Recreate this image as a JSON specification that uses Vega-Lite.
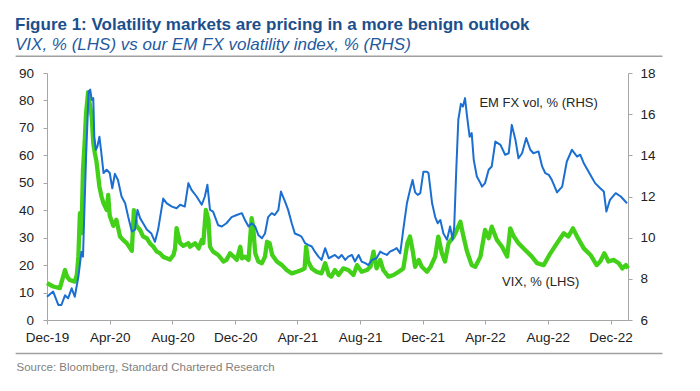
{
  "$schema": "https://vega.github.io/schema/vega-lite/v6.json",
  "width": 581,
  "height": 247,
  "autosize": {"type": "none"},
  "padding": {"left": 47, "top": 73, "right": 72, "bottom": 71},
  "background": "white",
  "config": {
    "font": "Liberation Sans",
    "view": {"stroke": null},
    "axis": {"grid": false, "domainColor": "#a6a6a6", "tickColor": "#a6a6a6", "labelColor": "#222222", "labelFontSize": 13.5, "labelFont": "Liberation Sans", "tickSize": 4}
  },
  "title": {
    "text": "Figure 1: Volatility markets are pricing in a more benign outlook",
    "subtitle": "VIX, % (LHS) vs our EM FX volatility index, % (RHS)",
    "anchor": "start", "frame": "group", "dx": -32, "offset": 2,
    "font": "Liberation Sans", "fontSize": 17, "fontWeight": "bold", "color": "#1c4f8c",
    "subtitleFont": "Liberation Sans", "subtitleFontStyle": "italic", "subtitleFontSize": 17, "subtitleColor": "#1f5a9e", "subtitlePadding": 3
  },
  "datasets": {
    "one": [{"k": 1}],
    "frame": [{"start": 1569888000000, "end": 1678579200000}],
    "vix": [
      {"date": "2019-12-01", "v": 13.4}, {"date": "2019-12-13", "v": 12.2}, {"date": "2019-12-26", "v": 11.6},
      {"date": "2020-01-05", "v": 18.2}, {"date": "2020-01-09", "v": 15.8}, {"date": "2020-01-14", "v": 14.6},
      {"date": "2020-01-24", "v": 14.0}, {"date": "2020-01-28", "v": 16.4}, {"date": "2020-01-31", "v": 23.0},
      {"date": "2020-02-03", "v": 38.9}, {"date": "2020-02-06", "v": 31.6}, {"date": "2020-02-09", "v": 54.7},
      {"date": "2020-02-12", "v": 64.0}, {"date": "2020-02-15", "v": 75.4}, {"date": "2020-02-19", "v": 83.0},
      {"date": "2020-02-22", "v": 79.0}, {"date": "2020-02-26", "v": 74.0}, {"date": "2020-02-29", "v": 64.5},
      {"date": "2020-03-03", "v": 60.8}, {"date": "2020-03-06", "v": 58.0}, {"date": "2020-03-12", "v": 48.6},
      {"date": "2020-03-16", "v": 45.0}, {"date": "2020-03-20", "v": 42.5}, {"date": "2020-03-26", "v": 40.1},
      {"date": "2020-03-29", "v": 45.6}, {"date": "2020-04-01", "v": 38.0}, {"date": "2020-04-08", "v": 34.3},
      {"date": "2020-04-14", "v": 36.5}, {"date": "2020-04-21", "v": 30.4}, {"date": "2020-04-27", "v": 29.2},
      {"date": "2020-05-04", "v": 28.0}, {"date": "2020-05-14", "v": 25.2}, {"date": "2020-05-18", "v": 40.0},
      {"date": "2020-05-23", "v": 34.3}, {"date": "2020-05-30", "v": 32.8}, {"date": "2020-06-05", "v": 30.4},
      {"date": "2020-06-12", "v": 29.8}, {"date": "2020-06-18", "v": 28.0}, {"date": "2020-06-25", "v": 26.7},
      {"date": "2020-07-01", "v": 25.0}, {"date": "2020-07-08", "v": 24.3}, {"date": "2020-07-14", "v": 23.0},
      {"date": "2020-07-21", "v": 22.5}, {"date": "2020-07-27", "v": 22.0}, {"date": "2020-08-03", "v": 23.7},
      {"date": "2020-08-06", "v": 26.0}, {"date": "2020-08-09", "v": 33.5}, {"date": "2020-08-16", "v": 28.0},
      {"date": "2020-08-22", "v": 27.0}, {"date": "2020-09-01", "v": 28.0}, {"date": "2020-09-04", "v": 26.7},
      {"date": "2020-09-14", "v": 28.0}, {"date": "2020-09-21", "v": 26.1}, {"date": "2020-09-27", "v": 29.2},
      {"date": "2020-09-30", "v": 28.0}, {"date": "2020-10-05", "v": 40.1}, {"date": "2020-10-10", "v": 36.5},
      {"date": "2020-10-13", "v": 26.7}, {"date": "2020-10-19", "v": 24.9}, {"date": "2020-10-29", "v": 23.7},
      {"date": "2020-11-08", "v": 21.3}, {"date": "2020-11-14", "v": 21.9}, {"date": "2020-11-21", "v": 24.3},
      {"date": "2020-11-28", "v": 23.1}, {"date": "2020-12-04", "v": 21.9}, {"date": "2020-12-11", "v": 26.7},
      {"date": "2020-12-14", "v": 22.5}, {"date": "2020-12-20", "v": 23.1}, {"date": "2020-12-27", "v": 21.9},
      {"date": "2021-01-02", "v": 37.1}, {"date": "2021-01-05", "v": 34.0}, {"date": "2021-01-09", "v": 24.3},
      {"date": "2021-01-15", "v": 21.3}, {"date": "2021-01-22", "v": 20.7}, {"date": "2021-01-28", "v": 23.1},
      {"date": "2021-02-01", "v": 28.5}, {"date": "2021-02-06", "v": 28.0}, {"date": "2021-02-11", "v": 23.7},
      {"date": "2021-02-20", "v": 21.3}, {"date": "2021-03-02", "v": 20.0}, {"date": "2021-03-11", "v": 18.2},
      {"date": "2021-03-21", "v": 17.0}, {"date": "2021-03-31", "v": 17.6}, {"date": "2021-04-09", "v": 18.2},
      {"date": "2021-04-15", "v": 18.8}, {"date": "2021-04-18", "v": 26.7}, {"date": "2021-04-22", "v": 21.3},
      {"date": "2021-04-29", "v": 18.8}, {"date": "2021-05-08", "v": 17.6}, {"date": "2021-05-18", "v": 17.0},
      {"date": "2021-05-25", "v": 20.7}, {"date": "2021-06-01", "v": 16.4}, {"date": "2021-06-06", "v": 15.8},
      {"date": "2021-06-13", "v": 18.2}, {"date": "2021-06-20", "v": 16.4}, {"date": "2021-06-29", "v": 18.8},
      {"date": "2021-07-09", "v": 18.2}, {"date": "2021-07-19", "v": 16.4}, {"date": "2021-07-26", "v": 20.0},
      {"date": "2021-08-04", "v": 17.6}, {"date": "2021-08-14", "v": 18.2}, {"date": "2021-08-21", "v": 19.4},
      {"date": "2021-08-27", "v": 24.9}, {"date": "2021-09-02", "v": 18.8}, {"date": "2021-09-09", "v": 21.9},
      {"date": "2021-09-15", "v": 18.2}, {"date": "2021-09-25", "v": 15.8}, {"date": "2021-10-05", "v": 16.4},
      {"date": "2021-10-15", "v": 17.6}, {"date": "2021-10-24", "v": 18.8}, {"date": "2021-11-01", "v": 28.0},
      {"date": "2021-11-06", "v": 30.4}, {"date": "2021-11-11", "v": 25.5}, {"date": "2021-11-16", "v": 19.4},
      {"date": "2021-11-23", "v": 21.9}, {"date": "2021-11-29", "v": 19.4}, {"date": "2021-12-09", "v": 17.6},
      {"date": "2021-12-16", "v": 19.4}, {"date": "2021-12-25", "v": 23.1}, {"date": "2021-12-31", "v": 30.4},
      {"date": "2022-01-07", "v": 24.3}, {"date": "2022-01-13", "v": 21.3}, {"date": "2022-01-20", "v": 28.0},
      {"date": "2022-01-30", "v": 30.4}, {"date": "2022-02-05", "v": 32.8}, {"date": "2022-02-12", "v": 35.8},
      {"date": "2022-02-18", "v": 30.4}, {"date": "2022-02-25", "v": 24.9}, {"date": "2022-03-06", "v": 20.0},
      {"date": "2022-03-13", "v": 19.4}, {"date": "2022-03-23", "v": 23.1}, {"date": "2022-04-01", "v": 32.8},
      {"date": "2022-04-08", "v": 29.8}, {"date": "2022-04-14", "v": 34.0}, {"date": "2022-04-24", "v": 29.2},
      {"date": "2022-05-04", "v": 26.7}, {"date": "2022-05-14", "v": 23.1}, {"date": "2022-05-20", "v": 33.4},
      {"date": "2022-05-27", "v": 30.4}, {"date": "2022-06-05", "v": 28.0}, {"date": "2022-06-18", "v": 25.5},
      {"date": "2022-07-01", "v": 23.1}, {"date": "2022-07-11", "v": 20.7}, {"date": "2022-07-24", "v": 20.0},
      {"date": "2022-08-06", "v": 24.3}, {"date": "2022-08-19", "v": 28.0}, {"date": "2022-09-01", "v": 31.6},
      {"date": "2022-09-10", "v": 30.4}, {"date": "2022-09-19", "v": 33.4}, {"date": "2022-09-27", "v": 30.4},
      {"date": "2022-10-10", "v": 26.1}, {"date": "2022-10-23", "v": 23.7}, {"date": "2022-11-04", "v": 20.0},
      {"date": "2022-11-11", "v": 21.3}, {"date": "2022-11-19", "v": 24.3}, {"date": "2022-11-27", "v": 21.3},
      {"date": "2022-12-07", "v": 21.9}, {"date": "2022-12-17", "v": 20.7}, {"date": "2022-12-24", "v": 18.8},
      {"date": "2022-12-31", "v": 20.0}, {"date": "2023-01-04", "v": 18.8}
    ],
    "emfx": [
      {"date": "2019-12-01", "v": 7.13}, {"date": "2019-12-13", "v": 7.38}, {"date": "2019-12-23", "v": 6.73},
      {"date": "2019-12-29", "v": 6.73}, {"date": "2020-01-05", "v": 7.2}, {"date": "2020-01-11", "v": 7.05},
      {"date": "2020-01-18", "v": 7.54}, {"date": "2020-01-24", "v": 7.13}, {"date": "2020-01-31", "v": 8.1},
      {"date": "2020-02-06", "v": 9.32}, {"date": "2020-02-09", "v": 9.08}, {"date": "2020-02-12", "v": 11.5},
      {"date": "2020-02-15", "v": 13.94}, {"date": "2020-02-20", "v": 17.1}, {"date": "2020-02-23", "v": 17.19},
      {"date": "2020-02-26", "v": 16.7}, {"date": "2020-02-29", "v": 16.78}, {"date": "2020-03-02", "v": 14.9},
      {"date": "2020-03-05", "v": 14.27}, {"date": "2020-03-08", "v": 14.43}, {"date": "2020-03-12", "v": 14.9},
      {"date": "2020-03-15", "v": 14.27}, {"date": "2020-03-20", "v": 13.14}, {"date": "2020-03-26", "v": 13.3},
      {"date": "2020-04-01", "v": 13.14}, {"date": "2020-04-06", "v": 12.4}, {"date": "2020-04-11", "v": 13.1},
      {"date": "2020-04-17", "v": 12.8}, {"date": "2020-04-24", "v": 12.0}, {"date": "2020-05-01", "v": 11.67},
      {"date": "2020-05-07", "v": 11.0}, {"date": "2020-05-14", "v": 10.3}, {"date": "2020-05-20", "v": 10.38},
      {"date": "2020-05-25", "v": 11.35}, {"date": "2020-05-30", "v": 10.95}, {"date": "2020-06-05", "v": 10.7},
      {"date": "2020-06-12", "v": 10.4}, {"date": "2020-06-21", "v": 10.2}, {"date": "2020-06-28", "v": 9.8},
      {"date": "2020-07-04", "v": 10.38}, {"date": "2020-07-14", "v": 11.9}, {"date": "2020-07-21", "v": 11.67},
      {"date": "2020-07-31", "v": 11.51}, {"date": "2020-08-09", "v": 11.43}, {"date": "2020-08-16", "v": 11.6},
      {"date": "2020-08-25", "v": 11.51}, {"date": "2020-09-01", "v": 12.65}, {"date": "2020-09-07", "v": 12.32},
      {"date": "2020-09-17", "v": 12.0}, {"date": "2020-09-27", "v": 11.6}, {"date": "2020-10-03", "v": 12.0},
      {"date": "2020-10-08", "v": 12.57}, {"date": "2020-10-13", "v": 11.35}, {"date": "2020-10-19", "v": 11.27},
      {"date": "2020-10-29", "v": 10.6}, {"date": "2020-11-05", "v": 10.54}, {"date": "2020-11-14", "v": 10.7},
      {"date": "2020-11-24", "v": 11.0}, {"date": "2020-12-04", "v": 11.1}, {"date": "2020-12-14", "v": 11.19},
      {"date": "2020-12-20", "v": 10.86}, {"date": "2020-12-27", "v": 10.54}, {"date": "2021-01-02", "v": 10.7},
      {"date": "2021-01-09", "v": 10.54}, {"date": "2021-01-15", "v": 10.13}, {"date": "2021-01-22", "v": 9.97},
      {"date": "2021-01-28", "v": 10.2}, {"date": "2021-02-03", "v": 11.0}, {"date": "2021-02-10", "v": 11.19},
      {"date": "2021-02-16", "v": 11.1}, {"date": "2021-02-23", "v": 11.35}, {"date": "2021-02-28", "v": 12.24},
      {"date": "2021-03-08", "v": 11.75}, {"date": "2021-03-14", "v": 11.35}, {"date": "2021-03-21", "v": 10.7},
      {"date": "2021-03-27", "v": 10.2}, {"date": "2021-04-03", "v": 10.13}, {"date": "2021-04-09", "v": 10.05},
      {"date": "2021-04-16", "v": 9.73}, {"date": "2021-04-22", "v": 9.65}, {"date": "2021-04-29", "v": 9.57},
      {"date": "2021-05-05", "v": 9.32}, {"date": "2021-05-12", "v": 9.08}, {"date": "2021-05-18", "v": 8.92},
      {"date": "2021-05-25", "v": 9.49}, {"date": "2021-06-01", "v": 9.0}, {"date": "2021-06-13", "v": 9.16},
      {"date": "2021-06-20", "v": 9.0}, {"date": "2021-06-26", "v": 9.16}, {"date": "2021-07-03", "v": 8.92},
      {"date": "2021-07-09", "v": 9.08}, {"date": "2021-07-16", "v": 9.16}, {"date": "2021-07-22", "v": 8.84},
      {"date": "2021-07-29", "v": 9.16}, {"date": "2021-08-04", "v": 8.84}, {"date": "2021-08-11", "v": 8.76},
      {"date": "2021-08-17", "v": 8.67}, {"date": "2021-08-24", "v": 8.92}, {"date": "2021-09-02", "v": 9.0},
      {"date": "2021-09-09", "v": 9.32}, {"date": "2021-09-15", "v": 9.24}, {"date": "2021-09-22", "v": 9.16},
      {"date": "2021-09-28", "v": 9.32}, {"date": "2021-10-05", "v": 9.4}, {"date": "2021-10-11", "v": 9.49},
      {"date": "2021-10-18", "v": 9.24}, {"date": "2021-10-24", "v": 10.4}, {"date": "2021-10-31", "v": 11.67},
      {"date": "2021-11-06", "v": 12.32}, {"date": "2021-11-11", "v": 12.8}, {"date": "2021-11-16", "v": 12.2},
      {"date": "2021-11-21", "v": 12.08}, {"date": "2021-11-26", "v": 12.16}, {"date": "2021-12-02", "v": 13.2},
      {"date": "2021-12-09", "v": 13.2}, {"date": "2021-12-12", "v": 13.14}, {"date": "2021-12-19", "v": 11.67},
      {"date": "2021-12-25", "v": 11.0}, {"date": "2021-12-30", "v": 10.7}, {"date": "2022-01-04", "v": 10.86},
      {"date": "2022-01-10", "v": 10.2}, {"date": "2022-01-17", "v": 9.9}, {"date": "2022-01-23", "v": 10.54},
      {"date": "2022-01-28", "v": 9.9}, {"date": "2022-01-31", "v": 10.54}, {"date": "2022-02-04", "v": 13.3},
      {"date": "2022-02-08", "v": 15.73}, {"date": "2022-02-13", "v": 16.5}, {"date": "2022-02-17", "v": 16.37},
      {"date": "2022-02-21", "v": 16.78}, {"date": "2022-02-25", "v": 15.89}, {"date": "2022-03-02", "v": 14.9},
      {"date": "2022-03-06", "v": 15.08}, {"date": "2022-03-10", "v": 13.78}, {"date": "2022-03-16", "v": 12.97},
      {"date": "2022-03-23", "v": 12.65}, {"date": "2022-03-26", "v": 12.48}, {"date": "2022-04-01", "v": 12.65},
      {"date": "2022-04-08", "v": 13.3}, {"date": "2022-04-14", "v": 13.46}, {"date": "2022-04-21", "v": 14.67},
      {"date": "2022-05-01", "v": 14.51}, {"date": "2022-05-10", "v": 14.03}, {"date": "2022-05-17", "v": 14.1},
      {"date": "2022-05-23", "v": 15.48}, {"date": "2022-05-30", "v": 14.76}, {"date": "2022-06-05", "v": 13.86},
      {"date": "2022-06-12", "v": 14.1}, {"date": "2022-06-20", "v": 14.84}, {"date": "2022-06-28", "v": 14.27},
      {"date": "2022-07-04", "v": 14.1}, {"date": "2022-07-14", "v": 14.19}, {"date": "2022-07-21", "v": 13.46},
      {"date": "2022-07-27", "v": 13.14}, {"date": "2022-08-03", "v": 13.05}, {"date": "2022-08-09", "v": 12.8},
      {"date": "2022-08-19", "v": 12.2}, {"date": "2022-08-29", "v": 12.48}, {"date": "2022-09-07", "v": 13.7},
      {"date": "2022-09-17", "v": 14.27}, {"date": "2022-09-27", "v": 13.94}, {"date": "2022-10-03", "v": 14.03},
      {"date": "2022-10-10", "v": 13.62}, {"date": "2022-10-23", "v": 13.05}, {"date": "2022-11-01", "v": 12.65},
      {"date": "2022-11-11", "v": 12.4}, {"date": "2022-11-18", "v": 12.24}, {"date": "2022-11-23", "v": 11.27},
      {"date": "2022-11-30", "v": 11.84}, {"date": "2022-12-11", "v": 12.16}, {"date": "2022-12-21", "v": 12.0},
      {"date": "2023-01-02", "v": 11.67}
    ]
  },
  "layer": [
    {
      "data": {"name": "frame"},
      "mark": {"type": "rule", "color": "#a0a0a0", "strokeWidth": 1.5, "clip": false},
      "encoding": {
        "x": {"field": "start", "type": "temporal", "scale": {"type": "utc", "domain": ["2019-12-01", "2023-01-04"]}},
        "x2": {"field": "end"},
        "y": {"datum": 96.1, "type": "quantitative", "scale": {"domain": [0, 90]}, "axis": null}
      }
    },
    {
      "data": {"name": "frame"},
      "mark": {"type": "rule", "color": "#a0a0a0", "strokeWidth": 1.5, "clip": false},
      "encoding": {
        "x": {"field": "start", "type": "temporal", "scale": {"type": "utc", "domain": ["2019-12-01", "2023-01-04"]}},
        "x2": {"field": "end"},
        "y": {"datum": -12.2, "type": "quantitative", "scale": {"domain": [0, 90]}, "axis": null}
      }
    },
    {
      "data": {"name": "vix"},
      "mark": {"type": "line", "color": "#42d018", "strokeWidth": 4.3, "strokeJoin": "round"},
      "encoding": {
        "x": {
          "field": "date", "type": "temporal",
          "scale": {"type": "utc", "domain": ["2019-12-01", "2023-01-04"]},
          "axis": {
            "values": [
              {"year": 2019, "month": 12, "date": 1, "utc": true}, {"year": 2020, "month": 4, "date": 1, "utc": true},
              {"year": 2020, "month": 8, "date": 1, "utc": true}, {"year": 2020, "month": 12, "date": 1, "utc": true},
              {"year": 2021, "month": 4, "date": 1, "utc": true}, {"year": 2021, "month": 8, "date": 1, "utc": true},
              {"year": 2021, "month": 12, "date": 1, "utc": true}, {"year": 2022, "month": 4, "date": 1, "utc": true},
              {"year": 2022, "month": 8, "date": 1, "utc": true}, {"year": 2022, "month": 12, "date": 1, "utc": true}
            ],
            "format": "%b-%y", "labelPadding": 6, "labelFlush": false,
            "title": "Source: Bloomberg, Standard Chartered Research",
            "titleAnchor": "start", "titleAlign": "left", "titleX": -31, "titleY": 47, "titleBaseline": "middle",
            "titleFontSize": 11.5, "titleFontWeight": "normal", "titleColor": "#7f7f7f", "titleFont": "Liberation Sans"
          }
        },
        "y": {
          "field": "v", "type": "quantitative",
          "scale": {"domain": [0, 90]},
          "axis": {"orient": "left", "values": [0, 10, 20, 30, 40, 50, 60, 70, 80, 90], "labelPadding": 9.5, "title": null}
        }
      }
    },
    {
      "data": {"name": "emfx"},
      "mark": {"type": "line", "color": "#1b6fd1", "strokeWidth": 2, "strokeJoin": "round"},
      "encoding": {
        "x": {"field": "date", "type": "temporal", "scale": {"type": "utc", "domain": ["2019-12-01", "2023-01-04"]}},
        "y": {
          "field": "v", "type": "quantitative",
          "scale": {"domain": [6, 18]},
          "axis": {"orient": "right", "values": [6, 8, 10, 12, 14, 16, 18], "labelPadding": 8, "title": null}
        }
      }
    },
    {
      "data": {"name": "one"},
      "mark": {"type": "text", "align": "left", "baseline": "middle", "fontSize": 13, "color": "#262626", "font": "Liberation Sans"},
      "encoding": {
        "x": {"datum": {"year": 2022, "month": 5, "date": 4, "utc": true}, "type": "temporal", "scale": {"type": "utc", "domain": ["2019-12-01", "2023-01-04"]}},
        "y": {"datum": 13.7, "type": "quantitative", "scale": {"domain": [0, 90]}, "axis": null},
        "text": {"value": "VIX, % (LHS)"}
      }
    },
    {
      "data": {"name": "one"},
      "mark": {"type": "text", "align": "left", "baseline": "middle", "fontSize": 13, "color": "#262626", "font": "Liberation Sans"},
      "encoding": {
        "x": {"datum": {"year": 2022, "month": 3, "date": 21, "utc": true}, "type": "temporal", "scale": {"type": "utc", "domain": ["2019-12-01", "2023-01-04"]}},
        "y": {"datum": 16.55, "type": "quantitative", "scale": {"domain": [6, 18]}, "axis": null},
        "text": {"value": "EM FX vol, % (RHS)"}
      }
    }
  ],
  "resolve": {"scale": {"y": "independent"}, "axis": {"y": "independent"}}
}
